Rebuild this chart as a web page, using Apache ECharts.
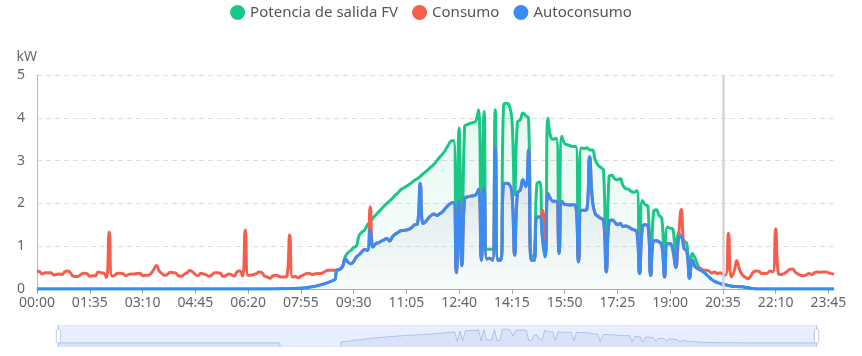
<!DOCTYPE html>
<html>
<head>
<meta charset="utf-8">
<script src="https://cdn.jsdelivr.net/npm/echarts@6/dist/echarts.min.js"></script>
<style>
html,body{margin:0;padding:0;background:#fff;}
#chart{width:862px;height:356px;}
</style>
</head>
<body>
<div id="chart"></div>
<script>
// ---- categories (5-minute slots) ----
const timeSlots = [];
for (let m = 0; m < 1440; m += 5) {
  const h = Math.floor(m / 60), mm = m % 60;
  timeSlots.push((h < 10 ? '0' : '') + h + ':' + (mm < 10 ? '0' : '') + mm);
}
const seriesNames = ['Potencia de salida FV', 'Consumo', 'Autoconsumo'];
const yTicks = [0, 1, 2, 3, 4, 5];
const markerSlot = '20:35';
const N = null;

// ---- PV output (kW) ----
const pvPower = [
  0,0,0,0,0,0,0,0,0,0, 0,0,0,0,0,0,0,0,0,0,
  0,0,0,0,0,0,0,0,0,0, 0,0,0,0,0,0,0,0,0,0,
  0,0,0,0,0,0,0,0,0,0, 0,0,0,0,0,0,0,0,0,0,
  0,0,0,0,0,0,0,0,0,0, 0,0,0,0,0,0,0,0,0,0,
  0,0,0,0,0,N,N,N,N,N, N,N,N,N,N,N,N,N,N,N,
  N,N,N,N,N,N,N,0.21,0.44,0.46,
  0.52,0.75,0.85,0.90,0.97,1.00,1.25,1.33,1.38,1.50,
  1.57,1.66,1.73,1.80,1.87,1.94,2.00,2.06,2.12,2.19,
  2.25,2.32,2.36,2.40,2.44,2.49,2.54,2.58,2.63,2.69,
  2.74,2.80,2.86,2.92,3.00,3.08,3.15,3.24,3.35,3.45,
  3.47,0.40,3.76,0.60,3.80,3.84,3.87,3.89,3.92,4.18,
  0.70,4.15,0.93,0.93,0.93,4.19,0.70,0.70,4.28,4.34,
  4.30,3.99,2.20,3.90,3.95,4.11,4.05,3.99,0.75,0.80,
  2.45,2.50,1.20,0.80,3.99,3.55,3.50,3.52,0.85,3.57,
  3.40,3.37,3.35,3.33,3.33,0.65,3.30,3.28,3.30,3.25,
  3.25,3.02,2.90,2.84,2.78,0.42,2.62,2.66,2.58,2.55,
  2.58,2.42,2.35,2.33,2.28,2.26,2.30,0.36,2.07,1.97,
  1.93,0.32,1.80,1.85,1.72,1.65,0.50,1.45,1.42,1.40,
  0.55,1.30,1.22,1.12,1.06,0.32,0.83,0.72,0.55,0.44,
  0.40,0.34,0.28,0.22,0.18,0.15,0.13,0.11,0.10,0.08,
  0.07,0.06,0.06,0.05,0.05,0.04,0.03,0.02,0.01,0,
  0,0,0,0,0,0,0,0,0,0, 0,0,0,0,0,0,0,0,0,0,
  0,0,0,0,0,0,0,0
];

// ---- Consumption (kW) ----
const consumption = [
  0.42,0.40,0.35,0.38,0.38,0.38,0.33,0.34,0.35,0.34,
  0.40,0.42,0.38,0.30,0.29,0.30,0.35,0.37,0.36,0.30,
  0.31,0.31,0.40,0.38,0.37,0.27,1.33,0.30,0.32,0.37,
  0.37,0.36,0.31,0.34,0.35,0.35,0.36,0.37,0.31,0.32,
  0.32,0.36,0.45,0.55,0.42,0.36,0.32,0.34,0.39,0.38,
  0.37,0.31,0.30,0.34,0.38,0.43,0.40,0.34,0.31,0.37,
  0.35,0.33,0.30,0.33,0.38,0.38,0.37,0.30,0.31,0.35,
  0.33,0.30,0.40,0.42,0.30,1.38,0.32,0.32,0.34,0.36,
  0.40,0.38,0.30,0.28,0.25,0.31,0.32,0.30,0.28,0.28,
  0.30,1.26,0.28,0.29,0.26,0.30,0.33,0.36,0.37,0.34,
  0.35,0.36,0.36,0.38,0.42,0.44,0.44,0.44,0.44,0.46,
  0.52,0.70,0.63,0.59,0.64,0.75,0.80,0.87,0.92,0.90,
  1.92,0.98,1.06,1.08,1.12,1.15,1.18,1.12,1.22,1.28,
  1.32,1.36,1.37,1.38,1.40,1.44,1.50,1.52,2.47,1.53,
  1.58,1.66,1.72,1.75,1.72,1.76,1.80,1.88,1.95,2.00,
  2.02,0.38,2.05,0.55,2.12,2.15,2.17,2.18,2.20,2.33,
  0.67,2.35,0.70,0.72,0.67,3.30,0.67,0.67,2.45,2.47,
  2.45,2.27,0.79,2.25,2.31,2.55,2.39,3.25,0.67,0.67,
  1.68,1.68,1.85,0.80,2.23,2.10,2.05,2.05,0.83,2.05,
  1.98,1.97,1.96,1.97,1.95,0.63,1.84,1.84,1.86,3.09,
  2.08,1.76,1.70,1.65,1.62,0.40,1.58,1.61,1.57,1.50,
  1.53,1.46,1.47,1.45,1.41,1.38,1.35,0.36,1.45,1.50,
  1.48,0.32,1.12,1.13,1.10,1.02,0.28,1.06,1.06,0.90,
  0.50,1.18,1.86,0.95,0.88,0.25,0.67,0.52,0.50,0.48,
  0.44,0.44,0.42,0.37,0.40,0.36,0.38,0.34,0.33,1.30,
  0.28,0.40,0.66,0.45,0.33,0.28,0.24,0.30,0.40,0.42,
  0.41,0.36,0.36,0.37,0.42,0.40,1.41,0.36,0.34,0.36,
  0.40,0.46,0.47,0.40,0.35,0.32,0.31,0.33,0.36,0.34,
  0.38,0.40,0.39,0.40,0.40,0.38,0.36,0.35
];

// ---- Self-consumption (kW) ----
const selfConsumption = [
  0,0,0,0,0,0,0,0,0,0, 0,0,0,0,0,0,0,0,0,0,
  0,0,0,0,0,0,0,0,0,0, 0,0,0,0,0,0,0,0,0,0,
  0,0,0,0,0,0,0,0,0,0, 0,0,0,0,0,0,0,0,0,0,
  0,0,0,0,0,0,0,0,0,0, 0,0,0,0,0,0,0,0,0,0,
  0,0,0,0,0,N,N,N,N,N, N,N,N,N,N,N,N,N,N,N,
  N,N,N,N,N,N,N,0.21,0.44,0.46,
  0.52,0.70,0.63,0.59,0.64,0.75,0.80,0.87,0.92,0.90,
  1.37,0.98,1.06,1.08,1.12,1.15,1.18,1.12,1.22,1.28,
  1.32,1.36,1.37,1.38,1.40,1.44,1.50,1.52,2.47,1.53,
  1.58,1.66,1.72,1.75,1.72,1.76,1.80,1.88,1.95,2.00,
  2.02,0.38,2.05,0.55,2.12,2.15,2.17,2.18,2.20,2.33,
  0.67,2.35,0.70,0.72,0.67,3.30,0.67,0.67,2.45,2.47,
  2.45,2.27,0.79,2.25,2.31,2.55,2.39,3.25,0.67,0.67,
  1.68,1.68,1.20,0.75,2.23,2.10,2.05,2.05,0.83,2.05,
  1.98,1.97,1.96,1.97,1.95,0.63,1.84,1.84,1.86,3.09,
  2.08,1.76,1.70,1.65,1.62,0.40,1.58,1.61,1.57,1.50,
  1.53,1.46,1.47,1.45,1.41,1.38,1.35,0.36,1.45,1.50,
  1.48,0.32,1.12,1.13,1.10,1.02,0.28,1.06,1.06,0.90,
  0.50,1.18,1.22,0.95,0.88,0.25,0.67,0.52,0.47,0.44,
  0.40,0.34,0.28,0.22,0.18,0.15,0.13,0.11,0.10,0.08,
  0.07,0.06,0.06,0.05,0.05,0.04,0.03,0.02,0.01,0,
  0,0,0,0,0,0,0,0,0,0, 0,0,0,0,0,0,0,0,0,0,
  0,0,0,0,0,0,0,0
];

const GREEN = '#1bc784', RED = '#f45f4d', BLUE = '#3a8cf2';
const FONT = 'Noto Sans';

const chart = echarts.init(document.getElementById('chart'), null, {renderer: 'canvas'});
chart.setOption({
  animation: false,
  textStyle: {fontFamily: FONT},
  color: [GREEN, RED, BLUE],
  legend: {
    top: 0, left: 'center', icon: 'circle', itemWidth: 15, itemHeight: 15, itemGap: 14,
    textStyle: {color: '#555', fontSize: 15, fontFamily: FONT},
    data: seriesNames
  },
  grid: {left: 37, right: 28, top: 75, bottom: 67},
  xAxis: {
    type: 'category', data: timeSlots, boundaryGap: false,
    axisLine: {lineStyle: {color: '#aaa'}},
    axisTick: {show: true, interval: 18, length: 5, lineStyle: {color: '#aaa'}},
    axisLabel: {interval: 18, color: '#666', fontSize: 14, margin: 7, fontFamily: FONT}
  },
  yAxis: {
    type: 'value', min: yTicks[0], max: yTicks[yTicks.length - 1], interval: 1,
    name: 'kW', nameGap: 11,
    nameTextStyle: {color: '#666', fontSize: 14, align: 'right', fontFamily: FONT},
    axisLine: {show: true, lineStyle: {color: '#bbb'}},
    axisTick: {show: false},
    axisLabel: {color: '#666', fontSize: 14, margin: 12, fontFamily: FONT},
    splitLine: {lineStyle: {type: [5, 4], color: '#ddd'}}
  },
  dataZoom: [{
    type: 'slider', xAxisIndex: 0, start: 0, end: 100,
    left: 55, right: 47, bottom: 9, height: 22,
    brushSelect: false, showDetail: false
  }],
  series: [
    {
      name: seriesNames[0], type: 'line', data: pvPower, smooth: true, connectNulls: true,
      showSymbol: false, symbol: 'none',
      lineStyle: {width: 3, color: GREEN},
      areaStyle: {color: new echarts.graphic.LinearGradient(0, 0, 0, 1, [
        {offset: 0, color: 'rgba(28,200,134,0.16)'},
        {offset: 1, color: 'rgba(28,200,134,0.04)'}
      ])},
      markLine: {
        silent: true, symbol: 'none', label: {show: false},
        lineStyle: {color: '#d5d5d5', width: 2.5, type: 'solid'},
        data: [{xAxis: markerSlot}]
      }
    },
    {
      name: seriesNames[1], type: 'line', data: consumption, smooth: true,
      showSymbol: false, symbol: 'none',
      lineStyle: {width: 3, color: RED}
    },
    {
      name: seriesNames[2], type: 'line', data: selfConsumption, smooth: true, connectNulls: true,
      showSymbol: false, symbol: 'none',
      lineStyle: {width: 3, color: BLUE},
      areaStyle: {color: new echarts.graphic.LinearGradient(0, 0, 0, 1, [
        {offset: 0, color: 'rgba(168,176,202,0.62)'},
        {offset: 1, color: 'rgba(236,238,246,0.2)'}
      ])}
    }
  ]
});
</script>
</body>
</html>
